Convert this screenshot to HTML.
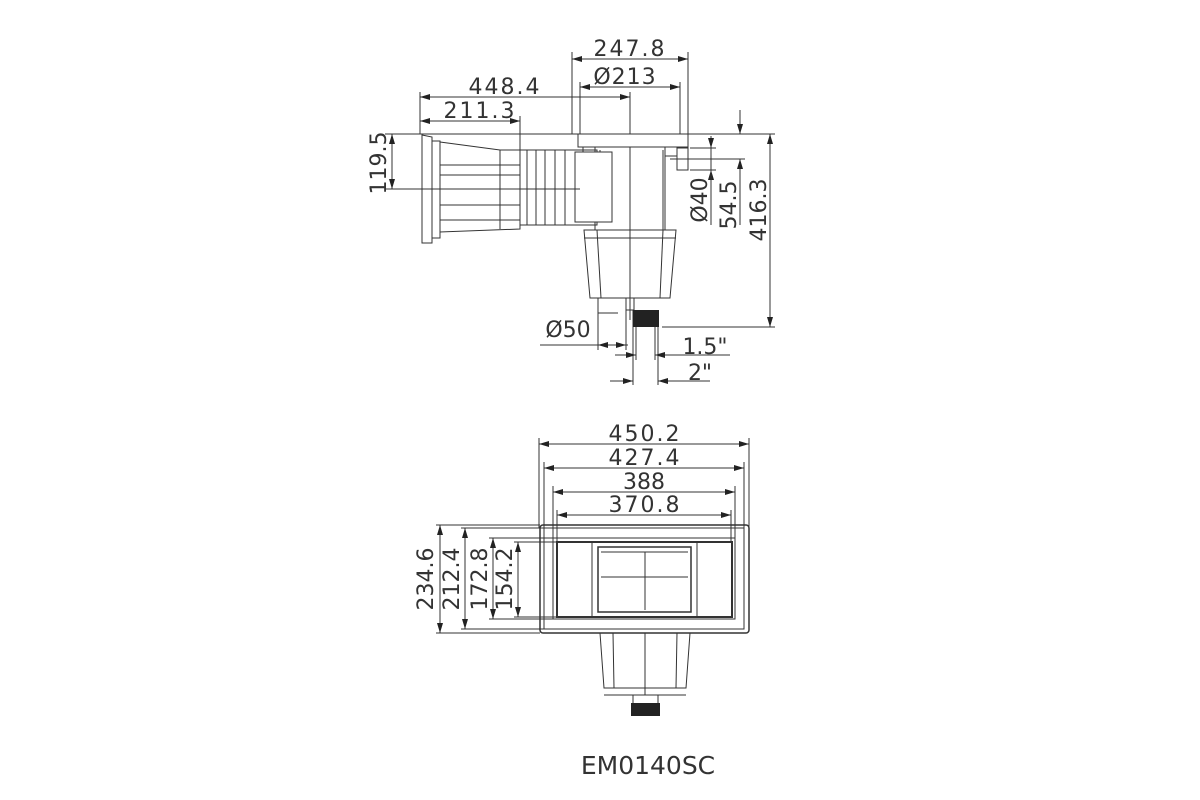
<!DOCTYPE html>
<html><head><style>
html,body{margin:0;padding:0;background:#fff;}
svg{display:block;}
text{font-family:"DejaVu Sans","Liberation Sans",sans-serif;fill:#333;}
</style></head><body>
<svg width="1200" height="800" viewBox="0 0 1200 800" xmlns="http://www.w3.org/2000/svg">
<defs>
<marker id="a" viewBox="0 0 10 6" refX="10" refY="3" markerWidth="10" markerHeight="6" orient="auto-start-reverse" markerUnits="userSpaceOnUse">
<path d="M0,0 L10,3 L0,6 z" fill="#222"/></marker>
</defs>
<g stroke="#333" stroke-width="1" fill="none">
<!-- TOP VIEW dims -->
<line x1="572" y1="52" x2="572" y2="134"/><line x1="688" y1="52" x2="688" y2="134"/>
<line x1="572" y1="59" x2="688" y2="59" marker-start="url(#a)" marker-end="url(#a)"/>
<line x1="580" y1="82" x2="580" y2="134"/><line x1="680" y1="82" x2="680" y2="134"/>
<line x1="580" y1="87" x2="680" y2="87" marker-start="url(#a)" marker-end="url(#a)"/>
<line x1="420" y1="92" x2="420" y2="134"/>
<line x1="420" y1="97" x2="630" y2="97" marker-start="url(#a)" marker-end="url(#a)"/>
<line x1="520" y1="116" x2="520" y2="150"/>
<line x1="420" y1="121" x2="520" y2="121" marker-start="url(#a)" marker-end="url(#a)"/>
<line x1="385" y1="134" x2="775" y2="134"/>
<line x1="385" y1="189" x2="530" y2="189"/>
<line x1="392" y1="134" x2="392" y2="189" marker-start="url(#a)" marker-end="url(#a)"/>
<line x1="630" y1="92" x2="630" y2="320"/>
<!-- right dims -->
<line x1="670" y1="159" x2="745" y2="159"/>
<line x1="690" y1="148" x2="716" y2="148"/><line x1="690" y1="170" x2="716" y2="170"/>
<line x1="711" y1="136" x2="711" y2="148" marker-end="url(#a)"/>
<line x1="711" y1="182" x2="711" y2="170" marker-end="url(#a)"/>
<line x1="711" y1="148" x2="711" y2="225"/>
<line x1="740" y1="110" x2="740" y2="134" marker-end="url(#a)"/>
<line x1="740" y1="225" x2="740" y2="159" marker-end="url(#a)"/>
<line x1="770" y1="134" x2="770" y2="327" marker-start="url(#a)" marker-end="url(#a)"/>
<line x1="662" y1="327" x2="775" y2="327"/>
<!-- cap and body -->
<rect x="578" y="134" width="110" height="13" fill="#fff"/>
<line x1="583" y1="147" x2="583" y2="152"/>
<rect x="595" y="147" width="70" height="83"/>
<line x1="663" y1="150" x2="663" y2="230" />
<line x1="600" y1="150" x2="600" y2="160"/>
<rect x="677" y="148" width="11" height="22"/>
<line x1="665" y1="156" x2="677" y2="156"/>
<path d="M584,230 L676,230 L670,298 L590,298 Z"/>
<line x1="584" y1="238" x2="676" y2="238"/>
<line x1="597" y1="230" x2="601" y2="298"/><line x1="663" y1="230" x2="660" y2="298"/>
<line x1="598" y1="298" x2="598" y2="313"/><line x1="598" y1="313" x2="618" y2="313"/>
<rect x="626" y="298" width="8" height="12"/>
<!-- pipe left -->
<path d="M422,135 L432,137 L432,243 L422,243 Z"/>
<rect x="432" y="141" width="8" height="97"/>
<path d="M440,142 L500,150 L520,150 L520,229 L440,232 Z"/>
<line x1="500" y1="150" x2="500" y2="229"/>
<line x1="440" y1="165" x2="520" y2="165"/><line x1="440" y1="175" x2="520" y2="175"/>
<line x1="440" y1="205" x2="520" y2="205"/><line x1="440" y1="220" x2="520" y2="220"/>
<rect x="520" y="150" width="77" height="75"/>
<line x1="527" y1="150" x2="527" y2="225"/><line x1="536" y1="150" x2="536" y2="225"/>
<line x1="545" y1="150" x2="545" y2="225"/><line x1="555" y1="150" x2="555" y2="225"/>
<line x1="565" y1="150" x2="565" y2="225"/>
<rect x="575" y="152" width="37" height="70" fill="#fff"/>
<line x1="530" y1="189" x2="580" y2="189"/>
<!-- bottom dims -->
<line x1="598" y1="313" x2="598" y2="350"/>
<line x1="540" y1="345" x2="628" y2="345"/>
<line x1="598" y1="345" x2="626" y2="345" marker-start="url(#a)" marker-end="url(#a)"/>
<line x1="626" y1="310" x2="626" y2="350"/>
<line x1="633" y1="310" x2="633" y2="385"/><line x1="658" y1="310" x2="658" y2="385"/>
<line x1="636" y1="327" x2="636" y2="360"/><line x1="655" y1="327" x2="655" y2="360"/>
<line x1="615" y1="355" x2="636" y2="355" marker-end="url(#a)"/>
<line x1="730" y1="355" x2="655" y2="355" marker-end="url(#a)"/>
<line x1="610" y1="381" x2="633" y2="381" marker-end="url(#a)"/>
<line x1="710" y1="381" x2="658" y2="381" marker-end="url(#a)"/>
</g>
<rect x="633" y="310" width="26" height="17" fill="#222"/>
<g font-size="22">
<text x="630" y="56" text-anchor="middle" letter-spacing="2">247.8</text>
<text x="625" y="84" text-anchor="middle" letter-spacing="1">Ø213</text>
<text x="505" y="94" text-anchor="middle" letter-spacing="2">448.4</text>
<text x="480" y="118" text-anchor="middle" letter-spacing="2">211.3</text>
<text x="568" y="337" text-anchor="middle">Ø50</text>
<text x="705" y="354" text-anchor="middle">1.5"</text>
<text x="700" y="380" text-anchor="middle">2"</text>
<text transform="translate(386,163) rotate(-90)" text-anchor="middle">119.5</text>
<text transform="translate(707,200) rotate(-90)" text-anchor="middle">Ø40</text>
<text transform="translate(736,205) rotate(-90)" text-anchor="middle">54.5</text>
<text transform="translate(766,210) rotate(-90)" text-anchor="middle">416.3</text>
</g>
<!-- BOTTOM VIEW -->
<g stroke="#333" stroke-width="1" fill="none">
<line x1="539" y1="438" x2="539" y2="528"/><line x1="749" y1="438" x2="749" y2="528"/>
<line x1="539" y1="444" x2="749" y2="444" marker-start="url(#a)" marker-end="url(#a)"/>
<line x1="544" y1="462" x2="544" y2="528"/><line x1="744" y1="462" x2="744" y2="528"/>
<line x1="544" y1="468" x2="744" y2="468" marker-start="url(#a)" marker-end="url(#a)"/>
<line x1="553" y1="486" x2="553" y2="538"/><line x1="735" y1="486" x2="735" y2="538"/>
<line x1="553" y1="492" x2="735" y2="492" marker-start="url(#a)" marker-end="url(#a)"/>
<line x1="557" y1="510" x2="557" y2="542"/><line x1="731" y1="510" x2="731" y2="542"/>
<line x1="557" y1="515" x2="731" y2="515" marker-start="url(#a)" marker-end="url(#a)"/>
<line x1="436" y1="525" x2="540" y2="525"/><line x1="436" y1="633" x2="540" y2="633"/>
<line x1="440" y1="525" x2="440" y2="633" marker-start="url(#a)" marker-end="url(#a)"/>
<line x1="461" y1="528" x2="544" y2="528"/><line x1="461" y1="629" x2="544" y2="629"/>
<line x1="465" y1="528" x2="465" y2="629" marker-start="url(#a)" marker-end="url(#a)"/>
<line x1="489" y1="538" x2="553" y2="538"/><line x1="489" y1="619" x2="553" y2="619"/>
<line x1="493" y1="538" x2="493" y2="619" marker-start="url(#a)" marker-end="url(#a)"/>
<line x1="514" y1="542" x2="557" y2="542"/><line x1="514" y1="617" x2="557" y2="617"/>
<line x1="518" y1="542" x2="518" y2="617" marker-start="url(#a)" marker-end="url(#a)"/>
<rect x="540" y="525" width="209" height="108" rx="3" stroke-width="1.5"/>
<rect x="544" y="528" width="200" height="101"/>
<rect x="553" y="538" width="182" height="81"/>
<rect x="557" y="542" width="175" height="75" stroke-width="2"/>
<line x1="592" y1="542" x2="592" y2="617"/><line x1="697" y1="542" x2="697" y2="617"/>
<rect x="598" y="547" width="93" height="65" stroke-width="1.5"/>
<line x1="601" y1="552" x2="688" y2="552"/>
<line x1="645" y1="552" x2="645" y2="610"/><line x1="601" y1="577" x2="688" y2="577"/>
<path d="M600,633 L690,633 L686,688 L604,688 Z"/>
<line x1="604" y1="695" x2="686" y2="695"/>
<line x1="613" y1="633" x2="614" y2="688"/><line x1="677" y1="633" x2="676" y2="688"/>
<line x1="645" y1="633" x2="645" y2="695"/>
<rect x="633" y="695" width="25" height="10"/>
</g>
<rect x="631" y="703" width="29" height="13" fill="#222"/>
<g font-size="22">
<text x="645" y="441" text-anchor="middle" letter-spacing="2">450.2</text>
<text x="645" y="465" text-anchor="middle" letter-spacing="2">427.4</text>
<text x="644" y="489" text-anchor="middle">388</text>
<text x="645" y="512" text-anchor="middle" letter-spacing="2">370.8</text>
<text transform="translate(433,579) rotate(-90)" text-anchor="middle">234.6</text>
<text transform="translate(459,579) rotate(-90)" text-anchor="middle">212.4</text>
<text transform="translate(487,579) rotate(-90)" text-anchor="middle">172.8</text>
<text transform="translate(512,579) rotate(-90)" text-anchor="middle">154.2</text>
</g>
<text x="648" y="774" font-size="25" text-anchor="middle" font-family="Liberation Sans, sans-serif">EM0140SC</text>
</svg>
</body></html>
